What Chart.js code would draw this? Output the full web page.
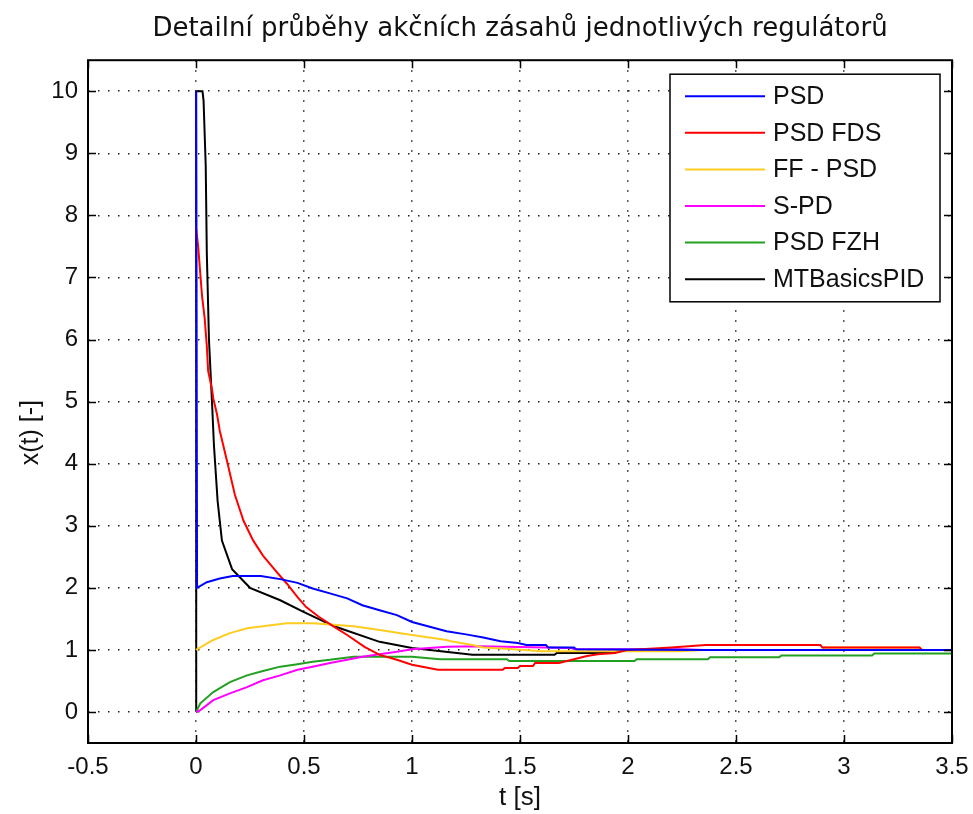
<!DOCTYPE html>
<html>
<head>
<meta charset="utf-8">
<script src="https://cdn.jsdelivr.net/npm/chart.js@4/dist/chart.umd.min.js"></script>
<style>
  html, body { margin: 0; padding: 0; background: #fff; }
  #wrap { width: 973px; height: 814px; }
</style>
</head>
<body>
<div id="wrap"><canvas id="chart" width="973" height="814"></canvas></div>
<script>
// axis ticks
const xTicks = [-0.5, 0, 0.5, 1, 1.5, 2, 2.5, 3, 3.5];
const yTicks = [0, 1, 2, 3, 4, 5, 6, 7, 8, 9, 10];

// series: time [s] and value
const psdT   = [0, 0.005, 0.05, 0.11, 0.17, 0.3, 0.39, 0.47, 0.54, 0.62, 0.7, 0.77, 0.85, 0.93, 1.0, 1.16, 1.25, 1.33, 1.41, 1.49, 1.53, 1.62, 1.63, 1.75, 1.76, 2.35, 2.85, 3.5];
const psdV   = [10, 2.0, 2.09, 2.15, 2.19, 2.19, 2.14, 2.08, 1.99, 1.91, 1.83, 1.72, 1.64, 1.56, 1.45, 1.3, 1.25, 1.2, 1.14, 1.11, 1.08, 1.08, 1.04, 1.04, 1.01, 1.0, 1.0, 1.0];

const fdsT   = [0, 0.01, 0.019, 0.028, 0.04, 0.05, 0.056, 0.074, 0.08, 0.097, 0.11, 0.143, 0.18, 0.22, 0.265, 0.31, 0.375, 0.42, 0.47, 0.51, 0.57, 0.64, 0.7, 0.78, 0.85, 0.93, 1.0, 1.12, 1.42, 1.43, 1.49, 1.5, 1.56, 1.57, 1.68, 1.75, 1.81, 1.86, 1.94, 2.0, 2.2, 2.36, 2.89, 2.9, 3.35, 3.36, 3.5];
const fdsV   = [7.8, 7.5, 7.1, 6.7, 6.35, 5.9, 5.5, 5.2, 5.05, 4.8, 4.53, 4.05, 3.5, 3.08, 2.76, 2.52, 2.25, 2.07, 1.85, 1.69, 1.53, 1.37, 1.24, 1.05, 0.92, 0.84, 0.76, 0.68, 0.68, 0.71, 0.71, 0.74, 0.74, 0.79, 0.79, 0.85, 0.9, 0.93, 0.95, 1.0, 1.04, 1.08, 1.08, 1.04, 1.04, 1.0, 1.0];

const ffT    = [0, 0.08, 0.157, 0.236, 0.31, 0.42, 0.54, 0.62, 0.73, 0.85, 1.0, 1.16, 1.18, 1.28, 1.33, 1.47, 1.6, 2.24, 2.35, 2.9, 2.91, 3.35, 3.36, 3.5];
const ffV    = [1.0, 1.16, 1.27, 1.35, 1.38, 1.43, 1.43, 1.41, 1.38, 1.32, 1.24, 1.16, 1.14, 1.08, 1.04, 1.01, 0.98, 0.98, 1.0, 1.0, 1.04, 1.04, 1.0, 1.0];

const spdT   = [0, 0.02, 0.08, 0.157, 0.236, 0.31, 0.39, 0.47, 0.54, 0.62, 0.7, 0.77, 0.85, 0.93, 1.0, 1.16, 1.31, 1.74, 1.75, 2.24, 2.35, 3.5];
const spdV   = [0, 0.03, 0.19, 0.3, 0.4, 0.51, 0.59, 0.68, 0.73, 0.79, 0.84, 0.89, 0.93, 0.97, 1.01, 1.05, 1.06, 1.03, 1.01, 1.01, 1.0, 1.0];

const fzhT   = [0, 0.02, 0.08, 0.157, 0.236, 0.31, 0.39, 0.47, 0.54, 0.62, 0.73, 1.0, 1.13, 1.44, 1.45, 2.03, 2.04, 2.37, 2.38, 2.7, 2.71, 3.13, 3.14, 3.5];
const fzhV   = [0, 0.14, 0.32, 0.48, 0.59, 0.66, 0.73, 0.77, 0.81, 0.84, 0.89, 0.89, 0.85, 0.85, 0.82, 0.82, 0.85, 0.85, 0.88, 0.88, 0.91, 0.91, 0.94, 0.94];

const mtbT   = [0, 0.001, 0.03, 0.035, 0.045, 0.05, 0.06, 0.074, 0.083, 0.1, 0.12, 0.167, 0.25, 0.39, 0.5, 0.64, 0.85, 1.0, 1.28, 1.66, 1.67, 1.94, 1.95, 3.5];
const mtbV   = [0, 10, 10, 9.85, 8.8, 7.4, 6.0, 5.0, 4.3, 3.4, 2.76, 2.3, 2.0, 1.8, 1.61, 1.38, 1.13, 1.03, 0.92, 0.92, 0.95, 0.95, 1.0, 1.0];

const seriesNames  = ['PSD', 'PSD FDS', 'FF - PSD', 'S-PD', 'PSD FZH', 'MTBasicsPID'];
const seriesColors = ['#0000ff', '#ff0000', '#ffcc22', '#ff00ff', '#22a022', '#000000'];
const seriesT = [psdT, fdsT, ffT, spdT, fzhT, mtbT];
const seriesV = [psdV, fdsV, ffV, spdV, fzhV, mtbV];

const yLabel = 'x(t) [-]';

const FONT = "'Liberation Sans', Arial, sans-serif";

const pairs = (ts, vs) => ts.map((t, i) => ({ x: t, y: vs[i] }));

// inward tick marks on all four sides + frame
const frameTicks = {
    id: 'frameTicks',
    afterDatasetsDraw(chart) {
        const { ctx, chartArea: a, scales } = chart;
        const len = 8;
        ctx.save();
        ctx.strokeStyle = '#000';
        ctx.lineWidth = 1.5;
        ctx.beginPath();
        xTicks.forEach(v => {
            const px = Math.round(scales.x.getPixelForValue(v)) + 0.5;
            ctx.moveTo(px, a.bottom); ctx.lineTo(px, a.bottom - len);
            ctx.moveTo(px, a.top); ctx.lineTo(px, a.top + len);
        });
        yTicks.forEach(v => {
            const py = Math.round(scales.y.getPixelForValue(v)) + 0.5;
            ctx.moveTo(a.left, py); ctx.lineTo(a.left + len, py);
            ctx.moveTo(a.right, py); ctx.lineTo(a.right - len, py);
        });
        ctx.stroke();
        ctx.lineWidth = 2;
        ctx.strokeRect(a.left, a.top, a.right - a.left, a.bottom - a.top);

        // y axis label, sits a bit below the axis centre like in the original
        ctx.translate(31, scales.y.getPixelForValue(4.5));
        ctx.rotate(-Math.PI / 2);
        ctx.font = '25px ' + FONT;
        ctx.fillStyle = '#111';
        ctx.textAlign = 'center';
        ctx.textBaseline = 'middle';
        ctx.fillText(yLabel, 0, 0);
        ctx.restore();
    }
};

// MATLAB-style boxed legend in the upper right
const boxLegend = {
    id: 'boxLegend',
    afterDraw(chart) {
        const { ctx, chartArea: a } = chart;
        const right = a.right - 12, top = a.top + 14;
        const w = 270, rowH = 36.6, h = rowH * seriesNames.length + 8;
        const left = right - w;
        ctx.save();
        ctx.fillStyle = '#fff';
        ctx.fillRect(left, top, w, h);
        ctx.strokeStyle = '#000';
        ctx.lineWidth = 1.5;
        ctx.strokeRect(left, top, w, h);
        ctx.font = '25px ' + FONT;
        ctx.textBaseline = 'middle';
        chart.data.datasets.forEach((ds, i) => {
            const y = top + 22 + i * rowH;
            ctx.strokeStyle = ds.borderColor;
            ctx.lineWidth = 2;
            ctx.beginPath();
            ctx.moveTo(left + 15, y); ctx.lineTo(left + 95, y);
            ctx.stroke();
            ctx.fillStyle = '#111';
            ctx.fillText(ds.label, left + 103, y + 1);
        });
        ctx.restore();
    }
};

new Chart(document.getElementById('chart'), {
    type: 'line',
    data: {
        datasets: seriesNames.map((name, i) => ({
            label: name,
            data: pairs(seriesT[i], seriesV[i]),
            borderColor: seriesColors[i],
            backgroundColor: seriesColors[i],
            borderWidth: 2,
            pointRadius: 0,
            tension: 0,
            fill: false,
        }))
    },
    options: {
        responsive: false,
        animation: false,
        layout: { padding: { left: 0, right: 21, top: 0, bottom: 0 } },
        plugins: {
            legend: { display: false },
            tooltip: { enabled: false },
            title: {
                display: true,
                fullSize: false,
                text: 'Detailní průběhy akčních zásahů jednotlivých regulátorů',
                color: '#111',
                font: { family: "'DejaVu Sans', sans-serif", size: 26, weight: 'normal' },
                padding: { top: 14, bottom: 15 }
            }
        },
        scales: {
            x: {
                type: 'linear',
                min: -0.5, max: 3.5,
                afterBuildTicks: s => { s.ticks = xTicks.map(v => ({ value: v })); },
                afterFit: s => { s.height = 71; s.paddingLeft = 0; s.paddingRight = 0; },
                grid: { color: '#222', lineWidth: 1.5, drawTicks: false },
                border: { display: false, dash: [1.5, 8.5] },
                ticks: { color: '#111', padding: 10, font: { family: FONT, size: 24 }, maxRotation: 0, autoSkip: false, callback: v => String(v) },
                title: { display: true, text: 't [s]', color: '#111', font: { family: FONT, size: 26 }, padding: { top: 0, bottom: 1 } }
            },
            y: {
                type: 'linear',
                min: -0.5, max: 10.5,
                afterBuildTicks: s => { s.ticks = yTicks.map(v => ({ value: v })); },
                afterFit: s => { s.width = 88; },
                grid: { color: '#222', lineWidth: 1.5, drawTicks: false },
                border: { display: false, dash: [1.5, 8.5] },
                ticks: { color: '#111', padding: 10, font: { family: FONT, size: 24 }, autoSkip: false, callback: v => String(v) },
                title: { display: false }
            }
        }
    },
    plugins: [frameTicks, boxLegend]
});
</script>
</body>
</html>
